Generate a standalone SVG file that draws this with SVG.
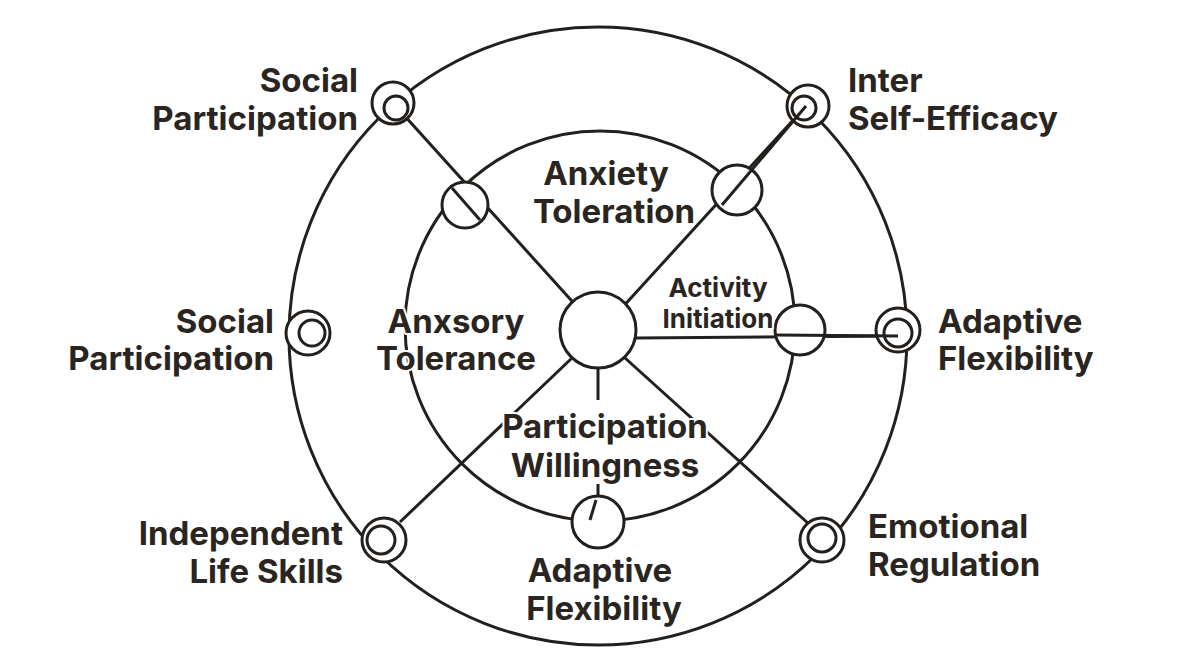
<svg xmlns="http://www.w3.org/2000/svg" width="1200" height="669" viewBox="0 0 1200 669">
<style>
.l{fill:none;stroke:#231f1c;stroke-width:3}
.n{fill:#fff;stroke:#231f1c;stroke-width:3}
text{font-family:"Inter","Liberation Sans",sans-serif;font-weight:700;fill:#2a2520;font-size:33px;stroke:#fff;stroke-width:4px;paint-order:stroke;stroke-linejoin:round}
.s{font-size:26px}
</style>
<rect width="1200" height="669" fill="#fff"/>
<g id="rings">
<circle class="l" cx="598" cy="336" r="309"/>
<circle class="l" cx="600" cy="326" r="195"/>
</g>
<g id="connectors">
<line class="l" x1="393" y1="103" x2="580" y2="310"/>
<line class="l" x1="806" y1="106" x2="620" y2="310"/>
<line class="l" x1="636" y1="338" x2="898" y2="336"/>
<line class="l" x1="598" y1="368" x2="598" y2="400"/>
<line class="l" x1="572" y1="358" x2="400" y2="522"/>
<line class="l" x1="625" y1="358" x2="810" y2="525"/>
<line class="l" x1="598" y1="484" x2="598" y2="500"/>
</g>
<g id="hub"><circle class="n" cx="598" cy="330" r="38"/></g>
<g id="n1"><circle class="n" cx="393" cy="103" r="21"/><circle class="l" cx="396" cy="108" r="12"/></g>
<g id="n2"><circle class="n" cx="808" cy="106" r="21"/><circle class="l" cx="804" cy="108" r="12"/></g>
<g id="n3"><circle class="n" cx="308" cy="333" r="22"/><circle class="l" cx="312" cy="333" r="13"/></g>
<g id="n4"><circle class="n" cx="898" cy="330" r="22"/><circle class="l" cx="898" cy="333" r="14"/></g>
<g id="n5"><circle class="n" cx="384" cy="540" r="22"/><circle class="l" cx="381" cy="540" r="14"/></g>
<g id="n6"><circle class="n" cx="822" cy="540" r="22"/><circle class="l" cx="822" cy="538" r="14"/></g>
<g id="i1"><circle class="n" cx="465" cy="205" r="23"/><line class="l" x1="452" y1="188" x2="480" y2="220"/></g>
<g id="i2"><circle class="n" cx="737" cy="190" r="25"/><line class="l" x1="722" y1="205" x2="806" y2="106"/></g>
<g id="i3"><circle class="n" cx="800" cy="330" r="25"/><line class="l" x1="775" y1="335" x2="898" y2="336"/></g>
<g id="i4"><circle class="n" cx="598" cy="522" r="26"/><line class="l" x1="596" y1="500" x2="590" y2="520"/></g>
<g id="labels">
<text x="358" y="92" text-anchor="end">Social</text>
<text x="358" y="130" text-anchor="end">Participation</text>
<text x="848" y="92">Inter</text>
<text x="848" y="130">Self-Efficacy</text>
<text x="606" y="185" text-anchor="middle">Anxiety</text>
<text x="614" y="223" text-anchor="middle">Toleration</text>
<text x="274" y="333" text-anchor="end">Social</text>
<text x="274" y="370" text-anchor="end">Participation</text>
<text x="456" y="333" text-anchor="middle">Anxsory</text>
<text x="456" y="370" text-anchor="middle">Tolerance</text>
<text x="718" y="297" text-anchor="middle" class="s">Activity</text>
<text x="718" y="328" text-anchor="middle" class="s">Initiation</text>
<text x="938" y="333">Adaptive</text>
<text x="938" y="370">Flexibility</text>
<text x="605" y="438" text-anchor="middle">Participation</text>
<text x="605" y="477" text-anchor="middle">Willingness</text>
<text x="343" y="545" text-anchor="end">Independent</text>
<text x="343" y="583" text-anchor="end">Life Skills</text>
<text x="868" y="538">Emotional</text>
<text x="868" y="576">Regulation</text>
<text x="600" y="582" text-anchor="middle">Adaptive</text>
<text x="604" y="620" text-anchor="middle">Flexibility</text>
</g>
</svg>
